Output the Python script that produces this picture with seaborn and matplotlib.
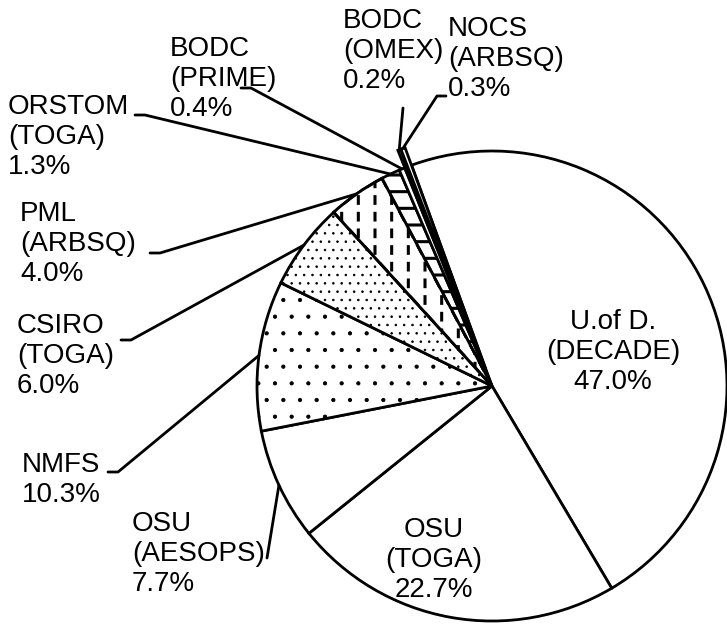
import numpy as np
import matplotlib
matplotlib.use('Agg')
import matplotlib.pyplot as plt
from matplotlib.patches import Wedge
import seaborn as sns

# Share of data by originator (percent)
labels = ['U.of D.\n(DECADE)', 'OSU\n(TOGA)', 'OSU\n(AESOPS)', 'NMFS', 'CSIRO\n(TOGA)',
          'PML\n(ARBSQ)', 'ORSTOM\n(TOGA)', 'BODC\n(PRIME)', 'BODC\n(OMEX)', 'NOCS\n(ARBSQ)']
shares = [47.0, 22.7, 7.7, 10.3, 6.0, 4.0, 1.3, 0.4, 0.2, 0.3]
hatches = [None, None, None, '.', '..', '|', '-', None, None, None]
explode = [0, 0, 0, 0, 0, 0, 0, 0, 0.08, 0.08]

sns.set_theme(style='white')
plt.rcParams['font.family'] = ['Liberation Sans', 'DejaVu Sans']
plt.rcParams['hatch.linewidth'] = 0.6

W, H = 727, 626
cx, cy, R = 492, H - 386, 235

fig = plt.figure(figsize=(W / 100, H / 100), dpi=100)
ax = fig.add_axes([0, 0, 1, 1])
wedges, _ = ax.pie(shares, radius=R, center=(cx, cy), startangle=110, counterclock=False,
                   explode=[e * R for e in explode], colors=['white'] * len(shares),
                   wedgeprops=dict(edgecolor='black', linewidth=2))
for w, h in zip(wedges, hatches):
    if h:
        w.set_hatch(h)
        # thicker strokes for line hatches, fine dots for dot hatches
        if h[0] in '|-' and hasattr(w, 'set_hatch_linewidth'):
            w.set_hatch_linewidth(2.2)
    if h == '|':
        # break the vertical lines into dashes with white bands, then redraw the outline
        gap = Wedge(w.center, w.r, w.theta1, w.theta2, facecolor='none',
                    edgecolor='white', lw=0, hatch='-', zorder=w.get_zorder() + 0.1)
        if hasattr(gap, 'set_hatch_linewidth'):
            gap.set_hatch_linewidth(5)
        ax.add_patch(gap)
        ax.add_patch(Wedge(w.center, w.r, w.theta1, w.theta2, facecolor='none',
                           edgecolor='black', lw=2, zorder=w.get_zorder() + 0.2))

# label layout: (x, y from top, ha), leader start (x, y from top, tick length) or None
label_pos = [(613, 352, 'center'), (434, 560, 'center'), (132, 554, 'left'), (22, 480, 'left'),
             (17, 356, 'left'), (20, 244, 'left'), (8, 137, 'left'), (170, 79, 'left'),
             (343, 51, 'left'), (448, 59, 'left')]
leaders = [None, None, (267, 558, 0), (108, 472, 10), (121, 340, 10), (150, 253, 10),
           (135, 115, 10), (241, 88, 10), (403, 108, 0), (446, 96, -9)]

for i, (lab, val) in enumerate(zip(labels, shares)):
    x, y, ha = label_pos[i]
    ax.text(x, H - y, f'{lab}\n{val:.1f}%', ha=ha, va='center', fontsize=20,
            linespacing=1.2, color='black')
    if leaders[i] is None:
        continue
    x0, y0, dx = leaders[i]
    w = wedges[i]
    tm = np.deg2rad((w.theta1 + w.theta2) / 2)
    ex = w.center[0] + w.r * np.cos(tm)
    ey = w.center[1] + w.r * np.sin(tm)
    if dx == 0:
        ax.plot([x0, ex], [H - y0, ey], color='black', lw=2)
    else:
        ax.plot([x0, x0 + dx, ex], [H - y0, H - y0, ey], color='black', lw=2)

ax.set_xlim(0, W)
ax.set_ylim(0, H)
ax.set_aspect('equal')
ax.axis('off')
fig.savefig('out.png', dpi=100)
